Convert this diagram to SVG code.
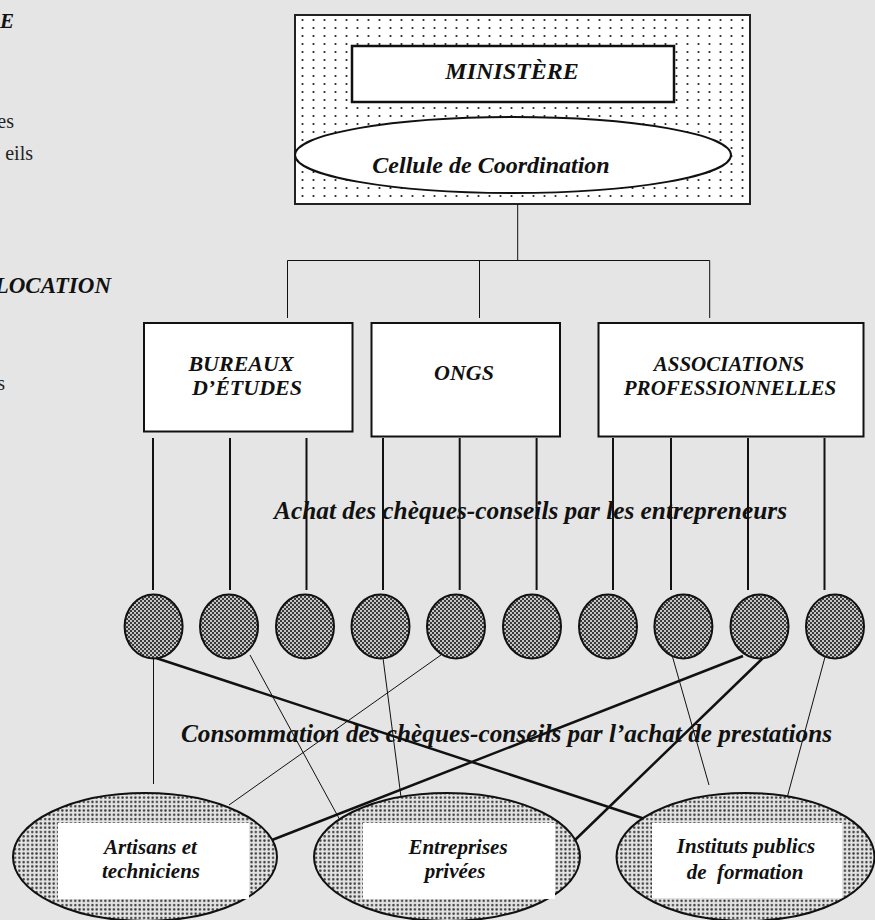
<svg xmlns="http://www.w3.org/2000/svg" width="875" height="920" viewBox="0 0 875 920">
<defs>
<pattern id="dots" width="11" height="8" patternUnits="userSpaceOnUse"><rect width="11" height="8" fill="#ffffff"/><circle cx="5.5" cy="4" r="1.1" fill="#222"/></pattern>
<pattern id="checker" width="4" height="4" patternUnits="userSpaceOnUse"><rect width="4" height="4" fill="#c4c4c4"/><rect width="2" height="2" fill="#3a3a3a"/><rect x="2" y="2" width="2" height="2" fill="#3a3a3a"/></pattern>
<pattern id="hatch" width="4.3" height="4.3" patternUnits="userSpaceOnUse"><rect width="4.3" height="4.3" fill="#e2e2e2"/><circle cx="2.15" cy="2.15" r="1.2" fill="#3c3c3c"/></pattern>
</defs>
<style>
.t{font-family:"Liberation Serif","Times New Roman",serif;font-weight:bold;font-style:italic;fill:#111;text-anchor:middle}
.r{font-family:"Liberation Serif","Times New Roman",serif;fill:#222;text-anchor:end}
.box{fill:#fff;stroke:#111;stroke-width:2}
.circ{fill:url(#checker);stroke:#111;stroke-width:2}
.ell{fill:url(#hatch);stroke:#111;stroke-width:2}
.white{fill:#fff}
.thin{stroke:#111;stroke-width:1;fill:none}
.med{stroke:#111;stroke-width:2;fill:none}
.thick{stroke:#111;stroke-width:2.5;fill:none}
</style>
<rect width="875" height="920" fill="#e5e5e5"/>

<g id="left-fragments">
<text class="t" x="14" y="28" font-size="21" style="text-anchor:end">E</text>
<text class="r" x="14" y="128" font-size="20">es</text>
<text class="r" x="33" y="160" font-size="20">eils</text>
<text class="t" x="111" y="293" font-size="23" style="text-anchor:end">LOCATION</text>
<text class="r" x="5" y="390" font-size="20">s</text>
</g>

<g id="ministere-block">
<rect x="295" y="15" width="455" height="189" fill="url(#dots)" stroke="#222" stroke-width="2"/>
<g id="ministere">
<rect x="352" y="46" width="322" height="56" fill="#fff" stroke="#111" stroke-width="2.5"/>
<text class="t" x="512" y="79" font-size="24">MINISTÈRE</text>
</g>
<g id="cellule">
<ellipse cx="513" cy="155" rx="218" ry="38" fill="#fff" stroke="#111" stroke-width="2"/>
<text class="t" x="491" y="173" font-size="24">Cellule de Coordination</text>
</g>
</g>

<g id="bureaux">
<rect class="box" x="144" y="323" width="208.5" height="108.5"/>
<text class="t" x="241" y="371" font-size="22">BUREAUX</text>
<text class="t" x="247" y="395" font-size="22">D’ÉTUDES</text>
</g>
<g id="ongs">
<rect class="box" x="371.5" y="323" width="188.5" height="113.5"/>
<text class="t" x="464" y="380" font-size="22">ONGS</text>
</g>
<g id="associations">
<rect class="box" x="598.5" y="323" width="265" height="113.5"/>
<text class="t" x="729" y="371" font-size="21">ASSOCIATIONS</text>
<text class="t" x="730" y="395" font-size="21">PROFESSIONNELLES</text>
</g>

<g id="connectors">
<path class="thin" d="M517.7 204V260.5M287.5 260.5H709.7M287.5 260.5V318M479.5 260.5V318M709.7 260.5V318"/>
<path class="med" d="M153 438V590M230 438V590M306.5 438V590M383 438V590M459.7 438V590M536.6 438V590M613 438V590M671 438V590M748 438V590M824.5 438V590"/>
<path class="thin" d="M153.5 658V784M250 655L341 822M383 658L401 797M441 655L229 805M672 655L709 785M825 657L787 798"/>
<path class="thick" d="M156 658L645 819M743 656L272 840M763 658L575 840"/>
</g>

<g id="cheques">
<ellipse class="circ" cx="153.6" cy="626.5" rx="29" ry="32"/>
<ellipse class="circ" cx="229" cy="626.5" rx="29" ry="32"/>
<ellipse class="circ" cx="305" cy="626.5" rx="29" ry="32"/>
<ellipse class="circ" cx="380.5" cy="626.5" rx="29" ry="32"/>
<ellipse class="circ" cx="456" cy="626.5" rx="29" ry="32"/>
<ellipse class="circ" cx="532" cy="626.5" rx="29" ry="32"/>
<ellipse class="circ" cx="608" cy="626.5" rx="29" ry="32"/>
<ellipse class="circ" cx="683.4" cy="626.5" rx="29" ry="32"/>
<ellipse class="circ" cx="759.5" cy="626.5" rx="29" ry="32"/>
<ellipse class="circ" cx="835" cy="626.5" rx="29" ry="32"/>
</g>

<g id="labels">
<text class="t" x="530.5" y="519" font-size="25" textLength="513" lengthAdjust="spacingAndGlyphs">Achat des chèques-conseils par les entrepreneurs</text>
<text class="t" x="506.5" y="742" font-size="25" textLength="651" lengthAdjust="spacingAndGlyphs">Consommation des chèques-conseils par l’achat de prestations</text>
</g>

<g id="artisans">
<ellipse class="ell" cx="145" cy="857" rx="132" ry="64"/>
<rect class="white" x="58" y="823" width="191" height="76"/>
<text class="t" x="150.5" y="854" font-size="21">Artisans et</text>
<text class="t" x="151" y="878" font-size="21">techniciens</text>
</g>
<g id="entreprises">
<ellipse class="ell" cx="447" cy="857" rx="133" ry="64"/>
<rect class="white" x="363" y="823" width="192" height="76"/>
<text class="t" x="458" y="854" font-size="21">Entreprises</text>
<text class="t" x="455" y="878" font-size="21">privées</text>
</g>
<g id="instituts">
<ellipse class="ell" cx="745.5" cy="857" rx="129" ry="64"/>
<rect class="white" x="652" y="823" width="190" height="75"/>
<text class="t" x="746" y="853" font-size="21">Instituts publics</text>
<text class="t" x="745" y="879" font-size="21" xml:space="preserve">de  formation</text>
</g>
</svg>
